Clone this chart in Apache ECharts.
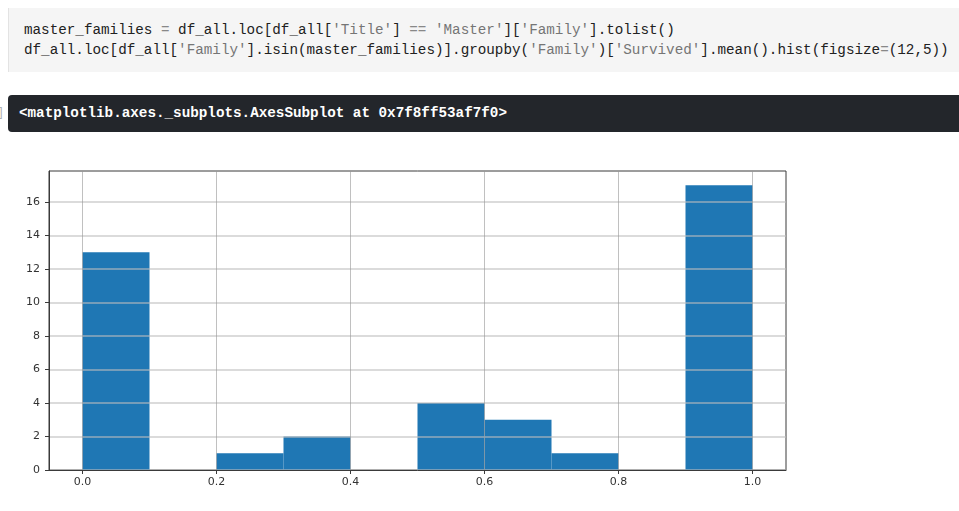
<!DOCTYPE html>
<html>
<head>
<meta charset="utf-8">
<script src="https://cdn.jsdelivr.net/npm/echarts@6/dist/echarts.min.js"></script>
<style>
  html, body { margin: 0; padding: 0; background: #ffffff; width: 959px; height: 511px; overflow: hidden; }
  .mono { font-family: "Liberation Mono", "DejaVu Sans Mono", monospace; font-size: 14.27px; white-space: pre; }
  #code { position: absolute; left: 8px; top: 8px; width: 951px; height: 64px; background: #f5f5f5; border-left: 1px solid #e3e3e3; box-sizing: border-box; }
  #code .line { position: absolute; left: 15px; height: 20px; line-height: 20px; color: #212121; }
  #code .s { color: #757575; }
  #code .o { color: #888888; }
  #out { position: absolute; left: 8px; top: 95px; width: 951px; height: 37px; background: #23262b; border-radius: 4px 0 0 4px; }
  #out .line { position: absolute; left: 11px; top: 8px; height: 20px; line-height: 20px; color: #ffffff; font-weight: bold; }
  #prompt { position: absolute; left: -3px; top: 104px; color: #b0b0b0; font-family: "Liberation Mono", monospace; font-size: 12px; line-height: 18px; }
  #chart { position: absolute; left: 0; top: 0; width: 959px; height: 511px; }
</style>
</head>
<body>
<div id="code">
  <div class="line mono" style="top:12px">master_families <span class="o">=</span> df_all.loc[df_all[<span class="s">'Title'</span>] <span class="o">==</span> <span class="s">'Master'</span>][<span class="s">'Family'</span>].tolist()</div>
  <div class="line mono" style="top:32px">df_all.loc[df_all[<span class="s">'Family'</span>].isin(master_families)].groupby(<span class="s">'Family'</span>)[<span class="s">'Survived'</span>].mean().hist(figsize<span class="o">=</span>(12,5))</div>
</div>
<div id="prompt">]</div>
<div id="out"><div class="line mono">&lt;matplotlib.axes._subplots.AxesSubplot at 0x7f8ff53af7f0&gt;</div></div>
<div id="chart"></div>
<script>
// Histogram bins (survival-rate ranges) and family counts
const binEdges = [0.0, 0.1, 0.2, 0.3, 0.4, 0.5, 0.6, 0.7, 0.8, 0.9, 1.0];
const counts = [13, 0, 1, 2, 0, 4, 3, 1, 0, 17];
const xTicks = [0.0, 0.2, 0.4, 0.6, 0.8, 1.0];
const yTicks = [0, 2, 4, 6, 8, 10, 12, 14, 16];

const data = counts.map((c, i) => [binEdges[i], binEdges[i + 1], c]);

const chart = echarts.init(document.getElementById('chart'), null, { renderer: 'canvas' });
const labelStyle = { color: '#333333', fontFamily: 'DejaVu Sans', fontSize: 11 };
chart.setOption({
  animation: false,
  backgroundColor: 'transparent',
  grid: {
    left: 49, right: 173, top: 171, bottom: 41,
    show: true, borderColor: '#3a3a3a', borderWidth: 1, backgroundColor: '#ffffff'
  },
  xAxis: {
    type: 'value', min: -0.05, max: 1.05, z: 3,
    axisLine: { show: true, onZero: false, lineStyle: { color: '#3a3a3a', width: 1 } },
    axisTick: { show: true, length: 4, customValues: xTicks, lineStyle: { color: '#3a3a3a' } },
    axisLabel: Object.assign({ customValues: xTicks, margin: 7, formatter: v => Number(v).toFixed(1) }, labelStyle),
    splitLine: { show: true, lineStyle: { color: 'rgba(150,150,150,0.6)', width: 1 } }
  },
  yAxis: {
    type: 'value', min: 0, max: 17.85, z: 3,
    axisLine: { show: true, onZero: false, lineStyle: { color: '#3a3a3a', width: 1 } },
    axisTick: { show: true, length: 4, customValues: yTicks, lineStyle: { color: '#3a3a3a' } },
    axisLabel: Object.assign({ customValues: yTicks, margin: 9, formatter: v => String(v) }, labelStyle),
    splitLine: { show: true, lineStyle: { color: 'rgba(190,190,190,0.55)', width: 2 } }
  },
  series: [{
    type: 'custom',
    z: 2,
    encode: { x: [0, 1], y: 2 },
    data: data,
    renderItem: function (params, api) {
      const p0 = api.coord([api.value(0), api.value(2)]);
      const p1 = api.coord([api.value(1), 0]);
      return {
        type: 'rect',
        shape: { x: p0[0], y: p0[1], width: p1[0] - p0[0], height: p1[1] - p0[1] },
        style: { fill: '#1f77b4' }
      };
    }
  }]
});
</script>
</body>
</html>
